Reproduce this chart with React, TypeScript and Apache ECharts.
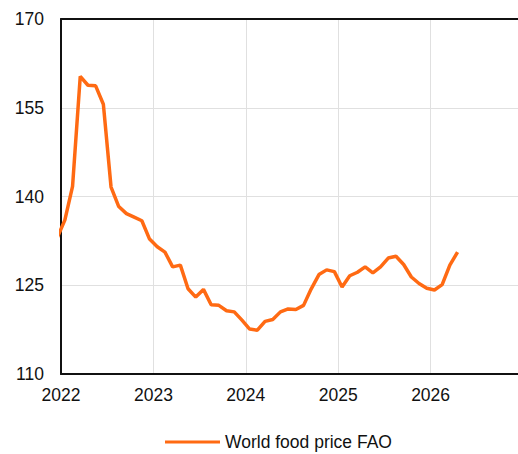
import React, { useEffect, useRef } from "react";
import * as echarts from "echarts";

const months: string[] = [
  "2021-12",
  "2022-01", "2022-02", "2022-03", "2022-04", "2022-05", "2022-06",
  "2022-07", "2022-08", "2022-09", "2022-10", "2022-11", "2022-12",
  "2023-01", "2023-02", "2023-03", "2023-04", "2023-05", "2023-06",
  "2023-07", "2023-08", "2023-09", "2023-10", "2023-11", "2023-12",
  "2024-01", "2024-02", "2024-03", "2024-04", "2024-05", "2024-06",
  "2024-07", "2024-08", "2024-09", "2024-10", "2024-11", "2024-12",
  "2025-01", "2025-02", "2025-03", "2025-04", "2025-05", "2025-06",
  "2025-07", "2025-08", "2025-09", "2025-10", "2025-11", "2025-12",
  "2026-01", "2026-02", "2026-03", "2026-04",
];

const foodPrice: number[] = [
  133.0,
  136.0, 141.7, 160.3, 158.8, 158.7, 155.6,
  141.6, 138.3, 137.1, 136.5, 135.9, 132.8,
  131.5, 130.6, 128.1, 128.4, 124.4, 123.0,
  124.3, 121.7, 121.6, 120.7, 120.5, 119.1,
  117.6, 117.4, 118.9, 119.2, 120.5, 121.0,
  120.9, 121.6, 124.4, 126.8, 127.6, 127.3,
  124.7, 126.6, 127.2, 128.1, 127.1, 128.1,
  129.6, 129.9, 128.5, 126.4, 125.3, 124.5,
  124.2, 125.1, 128.4, 130.6,
];

const seriesName = "World food price FAO";
const yTicks = { min: 110, max: 170, interval: 15 };
const xYears = { min: 2022, max: 2027, interval: 1 };

const FONT = "'Liberation Sans', Arial, sans-serif";

function toYearFraction(m: string): number {
  const [y, mo] = m.split("-").map(Number);
  return y + (mo - 0.5) / 12;
}

export default function App() {
  const ref = useRef<HTMLDivElement>(null);
  useEffect(() => {
    if (!ref.current) return;
    const chart = echarts.init(ref.current, null, { renderer: "svg" });
    const data = months.map((m, i) => [toYearFraction(m), foodPrice[i]]);
    chart.setOption({
      animation: false,
      textStyle: { fontFamily: FONT },
      grid: { left: 61, top: 19, width: 462, bottom: 80, containLabel: false, outerBoundsMode: "none" },
      legend: {
        left: 165,
        top: 433,
        padding: 0,
        itemWidth: 55,
        itemHeight: 14,
        itemGap: 10,
        textStyle: { fontSize: 17.5, color: "#111", fontFamily: FONT },
        data: [{ name: seriesName, icon: "path://M0,6 L55,6 L55,9 L0,9 Z" }],
      },
      xAxis: [
        {
          type: "value",
          min: xYears.min,
          max: xYears.max,
          interval: xYears.interval,
          axisLine: { show: true, onZero: false, lineStyle: { color: "#111", width: 2 } },
          axisTick: { show: false },
          splitLine: { show: true, lineStyle: { color: "#e0e0e0", width: 1 } },
          axisLabel: {
            fontSize: 17.5,
            color: "#111",
            margin: 12,
            fontFamily: FONT,
            showMaxLabel: false,
            formatter: (v: number) => String(Math.round(v)),
          },
        },
        {
          type: "value",
          position: "top",
          min: xYears.min,
          max: xYears.max,
          interval: xYears.interval,
          axisLine: { show: true, onZero: false, lineStyle: { color: "#111", width: 2 } },
          axisTick: { show: false },
          axisLabel: { show: false },
          splitLine: { show: false },
        },
      ],
      yAxis: {
        type: "value",
        min: yTicks.min,
        max: yTicks.max,
        interval: yTicks.interval,
        axisLine: { show: true, onZero: false, lineStyle: { color: "#111", width: 2 } },
        axisTick: { show: false },
        splitLine: { show: true, lineStyle: { color: "#e0e0e0", width: 1 } },
        axisLabel: { fontSize: 17.5, color: "#111", margin: 17, fontFamily: FONT },
      },
      series: [
        {
          name: seriesName,
          type: "line",
          xAxisIndex: 0,
          data,
          symbol: "none",
          clip: true,
          lineStyle: { color: "#FF6A13", width: 3.5 },
          itemStyle: { color: "#FF6A13" },
        },
      ],
    });
    return () => chart.dispose();
  }, []);
  return (
    <div
      ref={ref}
      style={{ position: "absolute", left: 0, top: 0, width: 518, height: 454, background: "#fff" }}
    />
  );
}
